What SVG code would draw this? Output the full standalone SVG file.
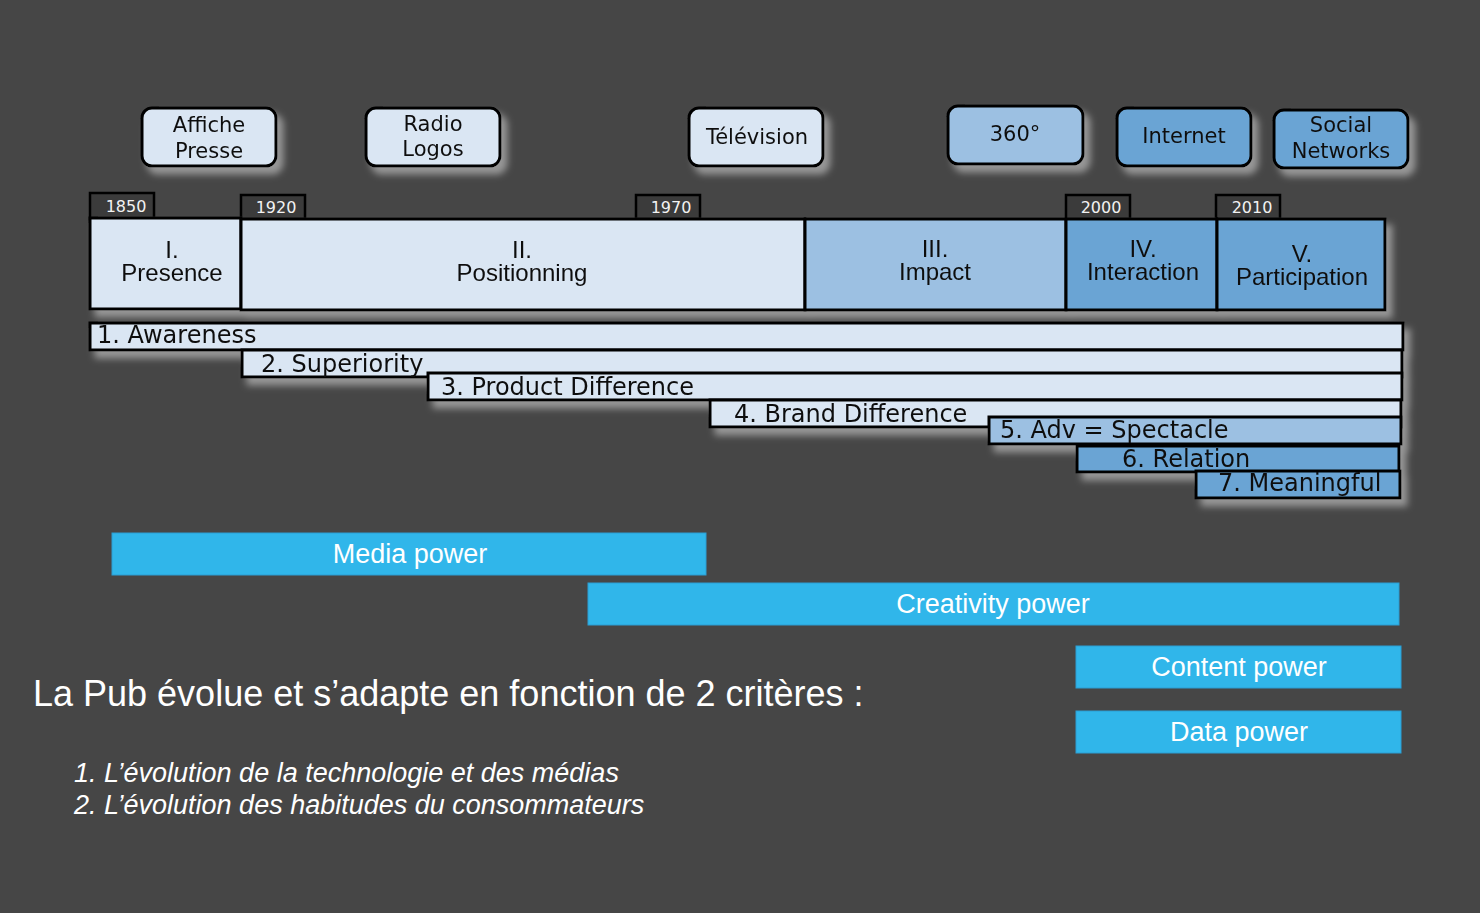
<svg xmlns="http://www.w3.org/2000/svg" width="1480" height="913" viewBox="0 0 1480 913">
<defs>
<filter id="sh" x="-10%" y="-20%" width="130%" height="160%">
<feGaussianBlur in="SourceAlpha" stdDeviation="3.5" result="b"/>
<feOffset in="b" dx="6" dy="7" result="o"/>
<feFlood flood-color="#a0a0a0" flood-opacity="0.9"/>
<feComposite in2="o" operator="in" result="s"/>
<feMerge><feMergeNode in="s"/><feMergeNode in="SourceGraphic"/></feMerge>
</filter>
<style>
.bg{fill:#464646}
.tb{stroke:#000;stroke-width:3}
.l{fill:#dae6f3}
.m{fill:#9cc0e2}
.d{fill:#6ba4d4}
.tab{fill:#3b3b3b;stroke:#000;stroke-width:2.5}
.v{font-family:"DejaVu Sans","Verdana",sans-serif;fill:#111}
.a{font-family:"Liberation Sans",Arial,sans-serif;fill:#111}
.yr{font-family:"DejaVu Sans","Verdana",sans-serif;font-size:16px;fill:#f2f2f2;text-anchor:middle}
.box{font-size:21px;text-anchor:middle}
.era{font-size:24px;text-anchor:middle}
.bar{font-size:24px}
.cy{fill:#30b6ea;stroke:#2a9ed4;stroke-width:1}
.ct{font-family:"Liberation Sans",Arial,sans-serif;font-size:27px;fill:#ffffff;text-anchor:middle}
.w{font-family:"Liberation Sans",Arial,sans-serif;fill:#ffffff}
</style>
</defs>
<rect class="bg" x="0" y="0" width="1480" height="913"/>

<g id="media-affiche" filter="url(#sh)">
<rect class="l tb" x="142" y="108" width="134" height="58" rx="10"/>
<text class="v box" x="209" y="132">Affiche</text>
<text class="v box" x="209" y="158">Presse</text>
</g>
<g id="media-radio" filter="url(#sh)">
<rect class="l tb" x="366" y="108" width="134" height="58" rx="10"/>
<text class="v box" x="433" y="131">Radio</text>
<text class="v box" x="433" y="156">Logos</text>
</g>
<g id="media-tv" filter="url(#sh)">
<rect class="l tb" x="689" y="108" width="134" height="58" rx="10"/>
<text class="v box" x="757" y="144">Télévision</text>
</g>
<g id="media-360" filter="url(#sh)">
<rect class="m tb" x="948" y="106" width="135" height="58" rx="10"/>
<text class="v box" x="1015" y="141">360°</text>
</g>
<g id="media-internet" filter="url(#sh)">
<rect class="d tb" x="1117" y="108" width="134" height="58" rx="10"/>
<text class="v box" x="1184" y="143">Internet</text>
</g>
<g id="media-social" filter="url(#sh)">
<rect class="d tb" x="1274" y="110" width="134" height="58" rx="10"/>
<text class="v box" x="1341" y="132">Social</text>
<text class="v box" x="1341" y="158">Networks</text>
</g>

<g id="year-1850"><rect class="tab" x="90" y="193" width="64" height="26"/><text class="yr" x="126" y="212">1850</text></g>
<g id="year-1920"><rect class="tab" x="241" y="195" width="64" height="24"/><text class="yr" x="276" y="213">1920</text></g>
<g id="year-1970"><rect class="tab" x="636" y="195" width="64" height="24"/><text class="yr" x="671" y="213">1970</text></g>
<g id="year-2000"><rect class="tab" x="1066" y="195" width="64" height="24"/><text class="yr" x="1101" y="213">2000</text></g>
<g id="year-2010"><rect class="tab" x="1216" y="195" width="64" height="24"/><text class="yr" x="1252" y="213">2010</text></g>

<g id="eras" filter="url(#sh)">
<g id="era-1">
<rect class="l tb" x="90" y="218" width="151" height="91"/>
<text class="a era" x="172" y="258">I.</text>
<text class="a era" x="172" y="281">Presence</text>
</g>
<g id="era-2">
<rect class="l tb" x="241" y="219" width="564" height="91"/>
<text class="a era" x="522" y="258">II.</text>
<text class="a era" x="522" y="281">Positionning</text>
</g>
<g id="era-3">
<rect class="m tb" x="805" y="219" width="261" height="91"/>
<text class="a era" x="935" y="257">III.</text>
<text class="a era" x="935" y="280">Impact</text>
</g>
<g id="era-4">
<rect class="d tb" x="1066" y="219" width="151" height="91"/>
<text class="a era" x="1143" y="257">IV.</text>
<text class="a era" x="1143" y="280">Interaction</text>
</g>
<g id="era-5">
<rect class="d tb" x="1217" y="219" width="168" height="91"/>
<text class="a era" x="1302" y="262">V.</text>
<text class="a era" x="1302" y="285">Participation</text>
</g>
</g>

<g id="stages" filter="url(#sh)">
<g id="stage-1"><rect class="l tb" x="90" y="323" width="1313" height="27"/><text class="v bar" x="97" y="343">1. Awareness</text></g>
<g id="stage-2"><rect class="l tb" x="242" y="350" width="1160" height="27"/><text class="v bar" x="261" y="372">2. Superiority</text></g>
<g id="stage-3"><rect class="l tb" x="428" y="373" width="974" height="27"/><text class="v bar" x="441" y="395">3. Product Difference</text></g>
<g id="stage-4"><rect class="l tb" x="710" y="400" width="691" height="27"/><text class="v bar" x="734" y="422">4. Brand Difference</text></g>
<g id="stage-5"><rect class="m tb" x="989" y="417" width="412" height="27"/><text class="v bar" x="1000" y="438">5. Adv = Spectacle</text></g>
<g id="stage-6"><rect class="d tb" x="1077" y="446" width="322" height="26"/><text class="v bar" x="1122" y="467">6. Relation</text></g>
<g id="stage-7"><rect class="d tb" x="1196" y="471" width="204" height="27"/><text class="v bar" x="1218" y="491">7. Meaningful</text></g>
</g>

<g id="power-media"><rect class="cy" x="112" y="533" width="594" height="42"/><text class="ct" x="410" y="563">Media power</text></g>
<g id="power-creativity"><rect class="cy" x="588" y="583" width="811" height="42"/><text class="ct" x="993" y="613">Creativity power</text></g>
<g id="power-content"><rect class="cy" x="1076" y="646" width="325" height="42"/><text class="ct" x="1239" y="676">Content power</text></g>
<g id="power-data"><rect class="cy" x="1076" y="711" width="325" height="42"/><text class="ct" x="1239" y="741">Data power</text></g>

<g id="caption">
<text class="w" x="33" y="706" font-size="36">La Pub évolue et s’adapte en fonction de 2 critères :</text>
<text class="w" x="74" y="782" font-size="27" font-style="italic">1. L’évolution de la technologie et des médias</text>
<text class="w" x="74" y="814" font-size="27" font-style="italic">2. L’évolution des habitudes du consommateurs</text>
</g>

<g id="connectors"/>
</svg>
